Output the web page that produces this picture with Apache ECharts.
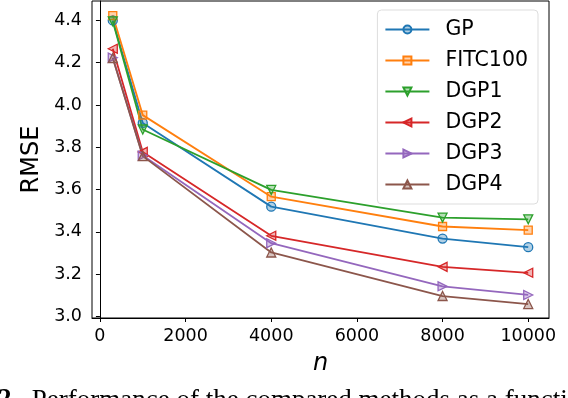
<!DOCTYPE html>
<html>
<head>
    <meta charset="UTF-8">
    <title>RMSE vs n</title>
    <script type="text/javascript" src="https://cdn.jsdelivr.net/npm/echarts@6/dist/echarts.min.js"></script>
</head>
<body style="margin: 0;padding: 0;">
    <div id="container" style="width:568px; height:398px;"></div>
    <script>
        // data
        var nValues = [300, 1000, 4000, 8000, 10000];
        var seriesNames = ["GP", "FITC100", "DGP1", "DGP2", "DGP3", "DGP4"];
        var gp = [4.40, 3.915, 3.519, 3.368, 3.327];
        var fitc100 = [4.423, 3.952, 3.566, 3.425, 3.408];
        var dgp1 = [4.396, 3.884, 3.598, 3.467, 3.459];
        var dgp2 = [4.266, 3.778, 3.381, 3.234, 3.206];
        var dgp3 = [4.224, 3.761, 3.346, 3.142, 3.101];
        var dgp4 = [4.222, 3.758, 3.302, 3.096, 3.058];
        var xTicks = [0, 2000, 4000, 6000, 8000, 10000];
        var yTicks = [3.0, 3.2, 3.4, 3.6, 3.8, 4.0, 4.2, 4.4];

        var allValues = [gp, fitc100, dgp1, dgp2, dgp3, dgp4];
        var colors = ["#1f77b4", "#ff7f0e", "#2ca02c", "#d62728", "#9467bd", "#8c564b"];
        var symbols = ["circle", "rect", "triangle", "triangle", "triangle", "triangle"];
        var rotations = [0, 0, 180, 90, -90, 0];

        var font = "DejaVu Sans";
        var chart = echarts.init(document.getElementById('container'), null, {renderer: 'canvas'});

        var series = seriesNames.map(function (name, i) {
            return {
                type: 'line',
                name: name,
                data: nValues.map(function (n, j) { return [n, allValues[i][j]]; }),
                symbol: symbols[i],
                symbolSize: i === 1 ? 8 : 9,
                symbolRotate: rotations[i],
                showAllSymbol: true,
                lineStyle: {color: colors[i], width: 1.8},
                itemStyle: {color: echarts.color.modifyAlpha(colors[i], 0.35), borderColor: colors[i], borderWidth: 1.3},
                emphasis: {disabled: true},
                animation: false
            };
        });

        var option = {
            animation: false,
            grid: {left: 92, right: 19, top: 1, bottom: 80, show: true, borderColor: '#000', borderWidth: 1, backgroundColor: 'transparent'},
            xAxis: {
                type: 'value', min: -185, max: 10485,
                name: 'n', nameLocation: 'middle', nameGap: 34,
                nameTextStyle: {fontFamily: font, fontSize: 24, fontStyle: 'italic', color: '#000'},
                axisLine: {lineStyle: {color: '#000'}},
                axisTick: {customValues: xTicks, length: 4, lineStyle: {color: '#000'}},
                axisLabel: {customValues: xTicks, fontFamily: font, fontSize: 17.5, color: '#000', margin: 9,
                    formatter: function (v) { return String(v); }},
                splitLine: {show: false}
            },
            yAxis: {
                type: 'value', min: 2.992, max: 4.492,
                name: 'RMSE', nameLocation: 'middle', nameGap: 44,
                nameTextStyle: {fontFamily: font, fontSize: 24, color: '#000'},
                axisLine: {show: true, lineStyle: {color: '#000'}},
                axisTick: {show: true, customValues: yTicks, length: 4, lineStyle: {color: '#000'}},
                axisLabel: {customValues: yTicks, fontFamily: font, fontSize: 17.5, color: '#000', margin: 10,
                    formatter: function (v) { return v.toFixed(1); }},
                splitLine: {show: false}
            },
            legend: {
                orient: 'vertical', right: 30, top: 10,
                itemWidth: 44, itemHeight: 10, itemGap: 10,
                padding: [9, 10, 9, 7],
                borderColor: '#ddd', borderWidth: 1, borderRadius: 4,
                backgroundColor: 'rgba(255,255,255,0.8)',
                textStyle: {fontFamily: font, fontSize: 20.5, color: '#000', padding: [0, 0, 0, 11]},
                data: seriesNames
            },
            graphic: [{
                type: 'text', left: -2, top: 387,
                style: {
                    text: '{b|2.}  Performance of the compared methods as a function of n',
                    font: '27px "Liberation Serif"', fill: '#000',
                    rich: {b: {fontFamily: 'Liberation Serif', fontSize: 27, fontWeight: 'bold'}}
                }
            }],
            series: series
        };
        chart.setOption(option);
    </script>
</body>
</html>
